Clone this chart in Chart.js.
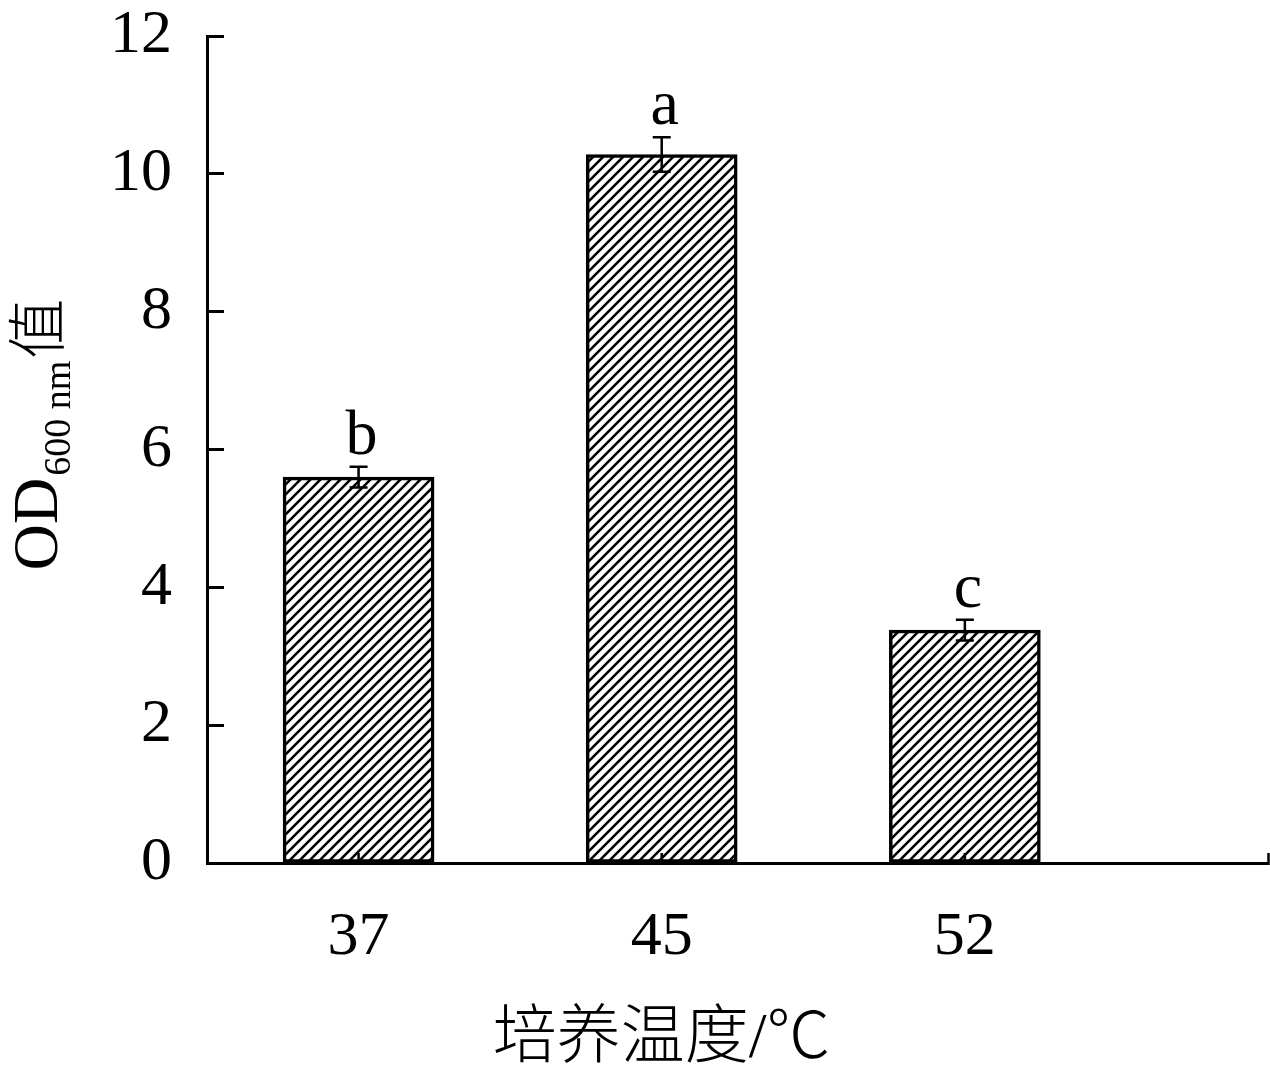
<!DOCTYPE html>
<html>
<head>
<meta charset="utf-8">
<script src="https://cdn.jsdelivr.net/npm/chart.js@4/dist/chart.umd.min.js"></script>
<style>
  body { margin: 0; background: #fff; }
  #wrap { width: 1270px; height: 1087px; }
</style>
</head>
<body>
<div id="wrap"><canvas id="c" width="1270" height="1087"></canvas></div>
<script>
// data
var temps = ['37', '45', '52'];
var odValues = [5.6, 10.28, 3.38];
var odErrors = [0.15, 0.25, 0.15];
var sigLetters = ['b', 'a', 'c'];
var yTicks = [0, 2, 4, 6, 8, 10, 12];

var serif = "'Liberation Serif', 'Times New Roman', 'Noto Sans CJK SC', serif";
var cjk = "'Liberation Serif', 'Noto Sans CJK SC', serif";

function hatch() {
    var p = document.createElement('canvas');
    p.width = 10; p.height = 10;
    var g = p.getContext('2d');
    g.fillStyle = '#fff';
    g.fillRect(0, 0, 10, 10);
    g.strokeStyle = '#000';
    g.lineWidth = 2.6;
    g.beginPath();
    g.moveTo(-5, 5); g.lineTo(5, -5);
    g.moveTo(0, 10); g.lineTo(10, 0);
    g.moveTo(5, 15); g.lineTo(15, 5);
    g.stroke();
    return g.createPattern(p, 'repeat');
}

var points = [];
for (var i = 0; i < temps.length; i++) {
    points.push({x: i + 1, y: odValues[i]});
}

var errorBars = {
    id: 'errorBars',
    afterDatasetsDraw: function(chart) {
        var ctx = chart.ctx;
        var y = chart.scales.y;
        var meta = chart.getDatasetMeta(0);
        ctx.save();
        ctx.strokeStyle = '#000';
        ctx.lineWidth = 2.5;
        meta.data.forEach(function(bar, i) {
            var top = y.getPixelForValue(odValues[i] + odErrors[i]);
            var bot = y.getPixelForValue(odValues[i] - odErrors[i]);
            ctx.beginPath();
            ctx.moveTo(bar.x, top); ctx.lineTo(bar.x, bot);
            ctx.moveTo(bar.x - 9, top); ctx.lineTo(bar.x + 9, top);
            ctx.moveTo(bar.x - 9, bot); ctx.lineTo(bar.x + 9, bot);
            // small tick on the x axis at the bar centre
            ctx.moveTo(bar.x, y.bottom); ctx.lineTo(bar.x, y.bottom - 10);
            ctx.stroke();
            // significance letter
            ctx.fillStyle = '#000';
            ctx.font = '64px ' + serif;
            ctx.textAlign = 'center';
            ctx.textBaseline = 'alphabetic';
            ctx.fillText(sigLetters[i], bar.x + 3, top - 13);
        });
        ctx.restore();
    }
};

// axis titles: OD600 nm值 (with subscript) and 培养温度/℃
var axisTitles = {
    id: 'axisTitles',
    afterDraw: function(chart) {
        var ctx = chart.ctx;
        var a = chart.chartArea;
        ctx.save();
        ctx.fillStyle = '#000';

        // x title, centred under the middle bar
        ctx.font = '300 64px ' + cjk;
        ctx.textAlign = 'center';
        ctx.textBaseline = 'middle';
        ctx.fillText('培养温度/℃', chart.scales.x.getPixelForValue(2), 1040);

        ctx.textBaseline = 'alphabetic';
        ctx.textAlign = 'left';
        ctx.font = '64px ' + serif;
        var w1 = ctx.measureText('OD').width;
        ctx.font = '38px ' + serif;
        var w2 = ctx.measureText('600 nm').width;
        ctx.font = '300 60px ' + cjk;
        var w3 = ctx.measureText('值').width;
        var total = w1 + w2 + w3 + 4;
        var cy = (a.top + a.bottom) / 2 - 15;
        ctx.translate(a.left - 150, cy + total / 2);
        ctx.rotate(-Math.PI / 2);
        ctx.font = '64px ' + serif;
        ctx.fillText('OD', 0, 0);
        ctx.font = '38px ' + serif;
        ctx.fillText('600 nm', w1 + 2, 13);
        ctx.font = '300 60px ' + cjk;
        ctx.fillText('值', w1 + w2 + 4, 2);
        ctx.restore();
    }
};

new Chart(document.getElementById('c'), {
    type: 'bar',
    data: {
        datasets: [{
            data: points,
            backgroundColor: hatch(),
            borderColor: '#000',
            borderWidth: 3.5,
            borderSkipped: false,
            barThickness: 151
        }]
    },
    plugins: [errorBars, axisTitles],
    options: {
        responsive: false,
        animation: false,
        layout: { padding: { top: 36, right: 2, left: 0, bottom: 0 } },
        plugins: {
            legend: { display: false },
            tooltip: { enabled: false }
        },
        scales: {
            x: {
                type: 'linear',
                min: 0.5,
                max: 4,
                offset: false,
                afterBuildTicks: function(s) {
                    s.ticks = [1, 2, 3, 4].map(function(v) { return {value: v}; });
                },
                afterFit: function(s) {
                    s.height = 224;
                    s.paddingLeft = 0; s.paddingRight = 0;
                },
                grid: {
                    offset: false,
                    drawOnChartArea: false,
                    drawTicks: true,
                    tickLength: -10,
                    tickWidth: 2.5,
                    tickColor: '#000'
                },
                border: { display: true, color: '#000', width: 3 },
                ticks: {
                    color: '#000',
                    font: { family: serif, size: 62 },
                    padding: 48,
                    maxRotation: 0,
                    callback: function(v) { return temps[v - 1] || ''; }
                }
            },
            y: {
                min: 0,
                max: 12,
                afterBuildTicks: function(s) {
                    s.ticks = yTicks.map(function(v) { return {value: v}; });
                },
                afterFit: function(s) {
                    s.width = 207;
                    s.paddingTop = 0; s.paddingBottom = 0;
                },
                grid: {
                    drawOnChartArea: false,
                    drawTicks: true,
                    tickLength: -17,
                    tickWidth: 3,
                    tickColor: '#000'
                },
                border: { display: true, color: '#000', width: 3 },
                ticks: {
                    color: '#000',
                    font: { family: serif, size: 62 },
                    padding: 52
                }
            }
        }
    }
});
</script>
</body>
</html>
